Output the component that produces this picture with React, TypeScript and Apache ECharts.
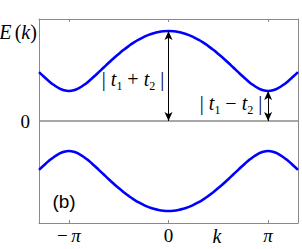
import React, { useEffect, useRef } from "react";
import * as echarts from "echarts";

// k in units of pi
const kValues = [
  -1.3, -1.25, -1.2, -1.15, -1.1, -1.05, -1.0, -0.95, -0.9, -0.85, -0.8, -0.75, -0.7, -0.65, -0.6, -0.55, -0.5,
  -0.45, -0.4, -0.35, -0.3, -0.25, -0.2, -0.15, -0.1, -0.05, 0, 0.05, 0.1, 0.15, 0.2, 0.25, 0.3, 0.35, 0.4, 0.45,
  0.5, 0.55, 0.6, 0.65, 0.7, 0.75, 0.8, 0.85, 0.9, 0.95, 1.0, 1.05, 1.1, 1.15, 1.2, 1.25, 1.3,
];
const upperBand = [
  1.6275, 1.4736, 1.3281, 1.1983, 1.0935, 1.0243, 1.0, 1.0243, 1.0935, 1.1983, 1.3281, 1.4736, 1.6275, 1.7844,
  1.9401, 2.0915, 2.2361, 2.3719, 2.4972, 2.6107, 2.7113, 2.7979, 2.8699, 2.9264, 2.9672, 2.9918, 3.0, 2.9918,
  2.9672, 2.9264, 2.8699, 2.7979, 2.7113, 2.6107, 2.4972, 2.3719, 2.2361, 2.0915, 1.9401, 1.7844, 1.6275, 1.4736,
  1.3281, 1.1983, 1.0935, 1.0243, 1.0, 1.0243, 1.0935, 1.1983, 1.3281, 1.4736, 1.6275,
];
const lowerBand = [
  -1.6275, -1.4736, -1.3281, -1.1983, -1.0935, -1.0243, -1.0, -1.0243, -1.0935, -1.1983, -1.3281, -1.4736, -1.6275,
  -1.7844, -1.9401, -2.0915, -2.2361, -2.3719, -2.4972, -2.6107, -2.7113, -2.7979, -2.8699, -2.9264, -2.9672,
  -2.9918, -3.0, -2.9918, -2.9672, -2.9264, -2.8699, -2.7979, -2.7113, -2.6107, -2.4972, -2.3719, -2.2361, -2.0915,
  -1.9401, -1.7844, -1.6275, -1.4736, -1.3281, -1.1983, -1.0935, -1.0243, -1.0, -1.0243, -1.0935, -1.1983, -1.3281,
  -1.4736, -1.6275,
];
const xTicks = [-1, 0, 1];
const xTickLabels = ["{n|−} {i|π}", "{n|0}", "{i|π}"];
const yTicks = [0];
const zeroLine = [
  [-1.3, 0],
  [1.3, 0],
];
const gapK = [0, 1];
const gapTop = [3, 1];

const SERIF = "'Liberation Serif', 'DejaVu Serif', serif";
const FRAME = "#8a8a8a";

export default function App() {
  const ref = useRef<HTMLDivElement>(null);
  useEffect(() => {
    if (!ref.current) return;
    const chart = echarts.init(ref.current, undefined, { renderer: "svg" });
    const richMath = {
      n: { fontFamily: SERIF, fontSize: 19, color: "#000" },
      i: { fontFamily: SERIF, fontSize: 19, fontStyle: "italic", color: "#000" },
      s: { fontFamily: SERIF, fontSize: 12, color: "#000", padding: [12, 0, 0, 0] },
    };
    const gRich = {
      n: { fontFamily: SERIF, fontSize: 20, fill: "#000" },
      i: { fontFamily: SERIF, fontSize: 20, fontStyle: "italic", fill: "#000" },
      s: { fontFamily: SERIF, fontSize: 12, fill: "#000", padding: [13, 0, 0, 0] },
    };
    const frameAxisX = (pos: "top" | "bottom", labels: boolean) => ({
      type: "value",
      position: pos,
      min: -1.3,
      max: 1.3,
      axisLine: { show: true, onZero: false, lineStyle: { color: FRAME, width: 1 } },
      axisTick: { show: true, inside: true, length: 3, customValues: xTicks, lineStyle: { color: FRAME } },
      axisLabel: labels
        ? {
            show: true,
            customValues: xTicks,
            margin: 3,
            formatter: (v: number) => xTickLabels[xTicks.indexOf(v)] ?? "",
            rich: richMath,
          }
        : { show: false },
      splitLine: { show: false },
    });
    const frameAxisY = (pos: "left" | "right", labels: boolean) => ({
      type: "value",
      position: pos,
      min: -3.4,
      max: 3.4,
      axisLine: { show: true, onZero: false, lineStyle: { color: FRAME, width: 1 } },
      axisTick: { show: false },
      axisLabel: labels
        ? {
            show: true,
            customValues: yTicks,
            margin: 9,
            fontFamily: SERIF,
            fontSize: 19,
            color: "#000",
          }
        : { show: false },
      splitLine: { show: false },
    });
    chart.setOption({
      animation: false,
      grid: { left: 39, right: 4, top: 19, bottom: 26 },
      xAxis: [frameAxisX("bottom", true), frameAxisX("top", false)],
      yAxis: [frameAxisY("left", true), frameAxisY("right", false)],
      series: [
        {
          type: "line",
          data: zeroLine,
          symbol: "none",
          lineStyle: { color: FRAME, width: 1.5 },
          silent: true,
        },
        {
          type: "line",
          data: kValues.map((k, i) => [k, upperBand[i]]),
          symbol: "none",
          smooth: true,
          lineStyle: { color: "#0000ff", width: 2.6 },
          markLine: {
            silent: true,
            symbol: ["arrow", "arrow"],
            symbolSize: [6, 9],
            label: { show: false },
            lineStyle: { color: "#000", width: 1, type: "solid" },
            data: gapK.map((k, i) => [{ coord: [k, gapTop[i]] }, { coord: [k, 0] }]),
          },
        },
        {
          type: "line",
          data: kValues.map((k, i) => [k, lowerBand[i]]),
          symbol: "none",
          smooth: true,
          lineStyle: { color: "#0000ff", width: 2.6 },
        },
      ],
      graphic: [
        {
          type: "text",
          x: 18,
          y: 32,
          style: { text: "{i|E} {n|(}{i|k}{n|)}", rich: gRich, align: "center", verticalAlign: "middle" },
        },
        {
          type: "text",
          x: 133,
          y: 79,
          style: {
            text: "{n|| }{i|t}{s|1}{n| + }{i|t}{s|2}{n| |}",
            rich: gRich,
            align: "center",
            verticalAlign: "middle",
          },
        },
        {
          type: "text",
          x: 231,
          y: 103,
          style: {
            text: "{n|| }{i|t}{s|1}{n| − }{i|t}{s|2}{n| |}",
            rich: gRich,
            align: "center",
            verticalAlign: "middle",
          },
        },
        {
          type: "text",
          x: 217,
          y: 236,
          style: { text: "k", font: "italic 20px " + SERIF, fill: "#000", align: "center", verticalAlign: "middle" },
        },
        {
          type: "text",
          x: 64,
          y: 201,
          style: {
            text: "(b)",
            font: "19px 'Liberation Sans', Arial, sans-serif",
            fill: "#000",
            align: "center",
            verticalAlign: "middle",
          },
        },
      ],
    });
    return () => chart.dispose();
  }, []);
  return (
    <div
      ref={ref}
      style={{ position: "fixed", left: 0, top: 0, width: 302, height: 249, background: "#fff" }}
    />
  );
}
